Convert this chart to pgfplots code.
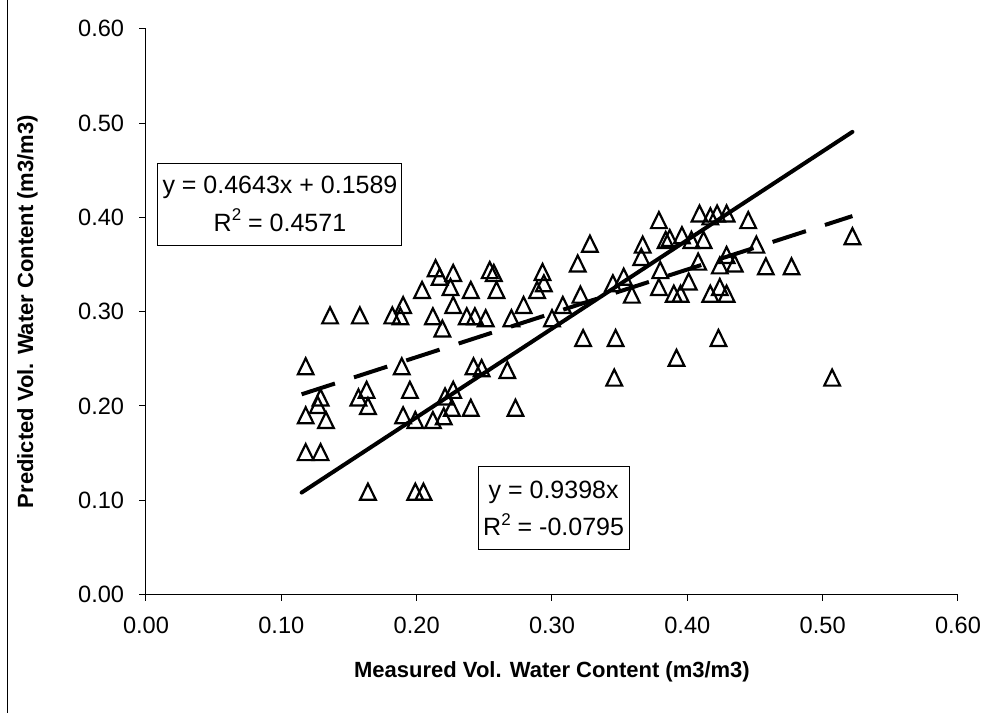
\documentclass[border=0pt]{standalone}
\usepackage{fontspec}
\setmainfont{Liberation Sans}
\usepackage{pgfplots}
\pgfplotsset{compat=1.18}

% open triangle centred on its bounding box, like the spreadsheet marker
\pgfdeclareplotmark{xltri}{%
  \pgfpathmoveto{\pgfpoint{0pt}{\pgfplotmarksize}}%
  \pgfpathlineto{\pgfpoint{0.98\pgfplotmarksize}{-\pgfplotmarksize}}%
  \pgfpathlineto{\pgfpoint{-0.98\pgfplotmarksize}{-\pgfplotmarksize}}%
  \pgfpathclose
  \pgfusepathqstroke
}
\newcommand{\sqr}{\raisebox{0.42em}{\fontsize{8.5}{8.5}\selectfont 2}}

\pgfplotstableread{
x y
0.136 0.296
0.158 0.296
0.118 0.242
0.129 0.209
0.127 0.201
0.118 0.190
0.133 0.185
0.157 0.209
0.163 0.217
0.164 0.200
0.118 0.151
0.129 0.151
0.164 0.109
0.182 0.296
0.188 0.295
0.190 0.307
0.189 0.242
0.195 0.217
0.190 0.190
0.199 0.185
0.214 0.346
0.217 0.337
0.227 0.341
0.225 0.326
0.204 0.323
0.240 0.323
0.227 0.307
0.212 0.295
0.219 0.282
0.237 0.295
0.243 0.295
0.251 0.293
0.254 0.344
0.257 0.341
0.259 0.323
0.242 0.242
0.248 0.240
0.227 0.217
0.221 0.210
0.226 0.198
0.240 0.198
0.212 0.185
0.220 0.189
0.199 0.109
0.205 0.109
0.270 0.293
0.279 0.307
0.293 0.342
0.294 0.330
0.289 0.323
0.300 0.293
0.308 0.307
0.321 0.318
0.319 0.351
0.328 0.372
0.345 0.330
0.353 0.337
0.359 0.318
0.367 0.371
0.366 0.358
0.379 0.397
0.384 0.376
0.387 0.378
0.380 0.344
0.379 0.326
0.396 0.381
0.403 0.376
0.412 0.376
0.409 0.404
0.417 0.401
0.422 0.404
0.429 0.404
0.390 0.319
0.395 0.319
0.401 0.332
0.408 0.353
0.417 0.319
0.424 0.326
0.429 0.319
0.429 0.360
0.424 0.349
0.435 0.351
0.323 0.272
0.347 0.272
0.267 0.238
0.392 0.251
0.346 0.230
0.273 0.198
0.451 0.371
0.458 0.348
0.477 0.348
0.445 0.397
0.423 0.272
0.507 0.230
0.522 0.380
}\measured

\begin{document}
\begin{tikzpicture}
\path[use as bounding box] (-73pt,-59.25pt) rectangle ++(499pt,356.5pt);
\draw[line width=0.5pt] (-69pt,-59.25pt) -- (-69pt,297.25pt);
\begin{axis}[
    at={(0,0)}, anchor=south west,
    scale only axis,
    width=406pt, height=282.9pt,
    xmin=0, xmax=0.6, ymin=0, ymax=0.6,
    xtick={0,0.1,0.2,0.3,0.4,0.5,0.6},
    ytick={0,0.1,0.2,0.3,0.4,0.5,0.6},
    axis lines*=left,
    axis line style={-, black, line width=0.5pt},
    tick style={black, line width=0.5pt},
    tick align=outside,
    major tick length=3.25pt,
    /pgf/number format/.cd, fixed, fixed zerofill, precision=2,
    assume math mode=true,
    /pgfplots/.cd,
    ticklabel style={font=\fontsize{11.8}{14}\selectfont, inner sep=0pt},
    xticklabel style={anchor=north, yshift=-8pt},
    yticklabel style={anchor=east, xshift=-7.5pt},
    xlabel={Measured Vol. Water Content (m3/m3)},
    ylabel={Predicted Vol. Water Content (m3/m3)},
    label style={font=\fontsize{11}{13}\selectfont\bfseries, inner sep=0pt},
    xlabel style={at={(axis description cs:0.5,-0.1175)}, anchor=north},
    ylabel style={at={(axis description cs:-0.133,0.5)}, anchor=south, rotate=0},
    clip=false,
]
\addplot[only marks, mark=xltri, mark size=4pt,
         mark options={solid, draw=black, line width=1.1pt}]
    table[x=x, y=y] {\measured};
% trendlines: y = 0.4643x + 0.1589 (dashed) and y = 0.9398x (solid)
\addplot[black, line width=2pt, line cap=butt,
         dash pattern=on 17.5pt off 10pt]
    coordinates {(0.115,0.2123) (0.522,0.4013)};
\addplot[black, line width=2pt, line cap=round]
    coordinates {(0.115,0.1081) (0.522,0.4906)};
\node[draw=black, line width=0.5pt, fill=white, inner sep=0pt,
      minimum width=122pt, minimum height=41pt, align=center,
      font=\fontsize{12.5}{18.8}\selectfont]
    at (axis cs:0.099,0.4141) {y = 0.4643x + 0.1589\\R\sqr{} = 0.4571};
\node[draw=black, line width=0.5pt, fill=white, inner sep=0pt,
      minimum width=75.5pt, minimum height=41.5pt, align=center,
      font=\fontsize{12.5}{18.8}\selectfont]
    at (axis cs:0.3012,0.0912) {y = 0.9398x\\R\sqr{} = -0.0795};
\end{axis}
\end{tikzpicture}
\end{document}
